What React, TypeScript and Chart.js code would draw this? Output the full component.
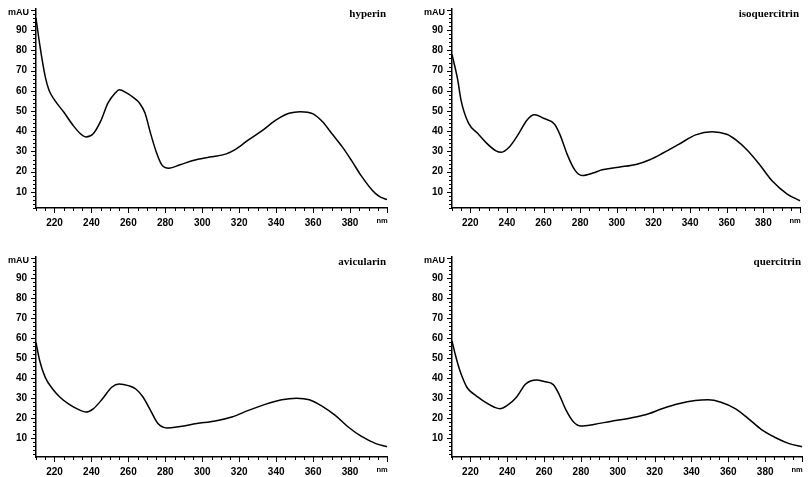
import React, { useEffect, useRef } from "react";
import { Chart, registerables } from "chart.js";

Chart.register(...registerables);

// ---- data (wavelength in nm, absorbance in mAU) ----
const hyperinNm = [210, 212, 215, 217, 220, 225, 230, 234, 237, 241, 245, 249, 253, 255, 259, 263, 266, 269, 272, 275, 278, 282, 288, 295, 304, 313, 318, 325, 333, 340, 347, 353, 360, 365, 370, 376, 381, 386, 392, 396, 400];
const hyperinMAU = [96, 83, 67, 60.4, 55.5, 49.5, 43, 38.8, 37.2, 38.8, 45, 54, 59, 60.5, 59, 56.5, 54, 49, 39, 30, 23.5, 21.7, 23.4, 25.5, 27.2, 28.8, 31, 35.7, 40.7, 45.6, 48.9, 49.7, 48.6, 44.8, 39, 32, 25.2, 18, 10.8, 7.6, 6.2];

const isoquercitrinNm = [210, 213, 215, 219, 224, 229, 234, 237, 241, 246, 251, 255, 260, 266, 269, 273, 277, 281, 287, 292, 301, 311, 318, 325, 334, 343, 352, 360, 365, 371, 378, 385, 393, 400];
const isoquercitrinMAU = [78, 66, 55, 44, 39, 34, 30.3, 29.6, 31.9, 38.2, 45.6, 48.1, 46.4, 43.5, 38.2, 28.3, 20.9, 18.1, 19.3, 20.9, 22.2, 23.7, 25.9, 29.1, 33.6, 38.2, 39.8, 38.5, 35.7, 30.8, 23.4, 15.2, 8.9, 5.6];

const avicularinNm = [210, 212, 215, 219, 223, 228, 234, 237, 241, 246, 251, 255, 260, 264, 268, 272, 276, 281, 288, 297, 307, 316, 325, 334, 343, 351, 358, 365, 372, 379, 386, 394, 400];
const avicularinMAU = [57.7, 48.6, 40.3, 34.5, 30.4, 26.8, 23.8, 23, 24.6, 29.6, 35.4, 37, 36.2, 34.5, 30.4, 23.8, 17.2, 15, 15.8, 17.2, 18.5, 20.5, 23.8, 26.8, 29.1, 29.9, 29.1, 25.8, 21.3, 15.5, 10.9, 7.2, 5.6];

const quercitrinNm = [210, 212, 214, 216, 218, 220, 223, 228, 233, 236, 240, 245, 250, 256, 260, 265, 268, 272, 276, 280, 287, 296, 307, 315, 324, 333, 342, 349, 356, 364, 371, 378, 386, 393, 400];
const quercitrinMAU = [58.5, 51, 44.5, 39.5, 35.5, 33.3, 31.2, 27.9, 25.4, 24.6, 26.3, 30.4, 37, 39, 38.2, 36.7, 32.1, 23.8, 18, 16, 16.8, 18.3, 20, 21.6, 24.6, 27.1, 28.7, 29.1, 27.9, 24.6, 19.6, 14.2, 10, 7.2, 5.6];

// ---- ticks ----
const xTickValues: number[] = [];
for (let v = 210; v <= 400; v += 5) xTickValues.push(v);
const xLabelValues = [220, 240, 260, 280, 300, 320, 340, 360, 380];
const xMajorValues = [220, 240, 260, 280, 300, 320, 340, 360, 380, 400];

const yTickValues: number[] = [];
for (let v = 2; v <= 100; v += 2) yTickValues.push(v);
const yLabelValues = [10, 20, 30, 40, 50, 60, 70, 80, 90];
const yMajorValues = [10, 20, 30, 40, 50, 60, 70, 80, 90, 100];

const xUnit = "nm";
const yUnit = "mAU";

const SANS = "'Liberation Sans', Arial, sans-serif";
const SERIF = "'Liberation Serif', 'Times New Roman', serif";

const decorPlugin = {
  id: "decor",
  afterDraw(chart: any, _args: any, opts: any) {
    const ctx = chart.ctx;
    const { left, right, top, bottom } = chart.chartArea;
    const xs = chart.scales.x;
    const ys = chart.scales.y;
    ctx.save();
    ctx.strokeStyle = "#000";
    ctx.lineWidth = 1;
    for (const t of ys.ticks) {
      if (t.value < ys.min || t.value > ys.max) continue;
      const py = Math.round(ys.getPixelForValue(t.value)) + 0.5;
      const len = yMajorValues.includes(t.value) ? 5 : 3;
      ctx.beginPath();
      ctx.moveTo(left - len, py);
      ctx.lineTo(left, py);
      ctx.stroke();
    }
    for (const t of xs.ticks) {
      const px = Math.round(xs.getPixelForValue(t.value)) + 0.5;
      const len = xMajorValues.includes(t.value) ? 5 : 3;
      ctx.beginPath();
      ctx.moveTo(px, bottom);
      ctx.lineTo(px, bottom + len);
      ctx.stroke();
    }
    ctx.fillStyle = "#000";
    ctx.textBaseline = "middle";
    ctx.font = `bold 9px ${SANS}`;
    ctx.textAlign = "right";
    ctx.fillText(yUnit, left - 7, top + 4);
    ctx.font = `bold 7.5px ${SANS}`;
    ctx.textAlign = "center";
    ctx.fillText(xUnit, right - 5, bottom + 13);
    ctx.font = `bold 11px ${SERIF}`;
    ctx.textAlign = "right";
    ctx.fillText(opts.title, right - 1, top + 5);
    ctx.restore();
  },
};

type PanelDef = {
  title: string;
  nm: number[];
  mau: number[];
  yMin: number;
  yMax: number;
  box: { left: number; top: number; w: number; h: number; aL: number; aT: number; aR: number; aB: number };
};

function Panel({ title, nm, mau, yMin, yMax, box }: PanelDef) {
  const ref = useRef<HTMLCanvasElement | null>(null);
  useEffect(() => {
    if (!ref.current) return;
    const chart = new Chart(ref.current, {
      type: "line",
      data: {
        datasets: [
          {
            data: nm.map((x, i) => ({ x, y: mau[i] })),
            borderColor: "#000",
            borderWidth: 1.5,
            pointRadius: 0,
            fill: false,
            cubicInterpolationMode: "monotone",
            clip: false as any,
          },
        ],
      },
      options: {
        responsive: false,
        animation: false,
        devicePixelRatio: 1,
        layout: {
          autoPadding: false,
          padding: { left: 0, top: box.aT, right: box.w - box.aR, bottom: 0 },
        } as any,
        plugins: {
          legend: { display: false },
          tooltip: { enabled: false },
          decor: { title },
        } as any,
        scales: {
          x: {
            type: "linear",
            min: 210,
            max: 400,
            afterBuildTicks: (s: any) => {
              s.ticks = xTickValues.map((v) => ({ value: v }));
            },
            afterFit: (s: any) => {
              s.height = box.h - box.aB;
            },
            grid: { display: false, drawTicks: true, tickLength: 6 },
            border: { display: true, color: "#000", width: 1.5 },
            ticks: {
              autoSkip: false,
              maxRotation: 0,
              padding: 3,
              color: "#000",
              font: { family: SANS, weight: "bold", size: 10 },
              callback: (v: any) => (xLabelValues.includes(Number(v)) ? String(v) : ""),
            },
          },
          y: {
            type: "linear",
            min: yMin,
            max: yMax,
            afterBuildTicks: (s: any) => {
              s.ticks = yTickValues.filter((v) => v >= yMin && v <= yMax).map((v) => ({ value: v }));
            },
            afterFit: (s: any) => {
              s.width = box.aL;
            },
            grid: { display: false, drawTicks: true, tickLength: 6 },
            border: { display: true, color: "#000", width: 1.5 },
            ticks: {
              autoSkip: false,
              padding: 3,
              color: "#000",
              font: { family: SANS, weight: "bold", size: 10 },
              callback: (v: any) => (yLabelValues.includes(Number(v)) ? String(v) : ""),
            },
          },
        },
      } as any,
      plugins: [decorPlugin as any],
    });
    return () => chart.destroy();
  }, []);
  return (
    <canvas
      ref={ref}
      width={box.w}
      height={box.h}
      style={{ position: "absolute", left: box.left, top: box.top, width: box.w, height: box.h }}
    />
  );
}

const panels: PanelDef[] = [
  { title: "hyperin", nm: hyperinNm, mau: hyperinMAU, yMin: 2, yMax: 100.5, box: { left: 0, top: 0, w: 405, h: 238, aL: 36, aT: 8, aR: 387, aB: 208 } },
  { title: "isoquercitrin", nm: isoquercitrinNm, mau: isoquercitrinMAU, yMin: 2, yMax: 100.5, box: { left: 416, top: 0, w: 394, h: 238, aL: 36, aT: 8, aR: 384, aB: 208 } },
  { title: "avicularin", nm: avicularinNm, mau: avicularinMAU, yMin: 0.5, yMax: 100.5, box: { left: 0, top: 248, w: 405, h: 229, aL: 36, aT: 8, aR: 387, aB: 209 } },
  { title: "quercitrin", nm: quercitrinNm, mau: quercitrinMAU, yMin: 0.5, yMax: 100.5, box: { left: 416, top: 248, w: 394, h: 229, aL: 36, aT: 8, aR: 386, aB: 209 } },
];

export default function App() {
  return (
    <div style={{ position: "fixed", left: 0, top: 0, width: 810, height: 477, background: "#fff", overflow: "hidden" }}>
      {panels.map((p) => (
        <Panel key={p.title} {...p} />
      ))}
    </div>
  );
}
